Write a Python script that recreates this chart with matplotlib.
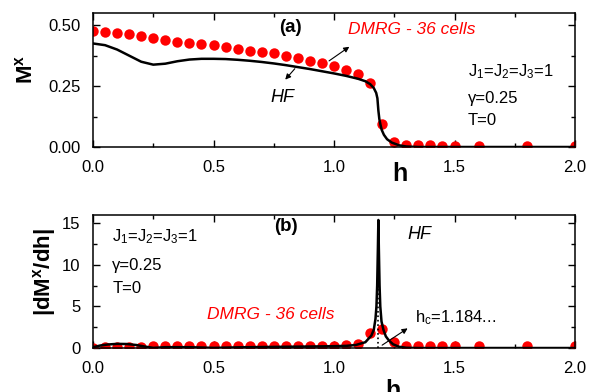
import matplotlib.pyplot as plt
from matplotlib.ticker import MultipleLocator, FormatStrFormatter

plt.rcParams['font.family'] = ['Liberation Sans', 'DejaVu Sans']
plt.rcParams['mathtext.fontset'] = 'custom'
plt.rcParams['mathtext.rm'] = 'Liberation Sans'
plt.rcParams['mathtext.it'] = 'Liberation Sans:italic'
plt.rcParams['mathtext.bf'] = 'Liberation Sans:bold'

# DMRG (36 cells) field grid and data
h_dmrg = [0.0, 0.05, 0.1, 0.15, 0.2, 0.25, 0.3, 0.35, 0.4, 0.45, 0.5, 0.55,
          0.6, 0.65, 0.7, 0.75, 0.8, 0.85, 0.9, 0.95, 1.0, 1.05, 1.1, 1.15,
          1.2, 1.25, 1.3, 1.35, 1.4, 1.45, 1.5, 1.6, 1.8, 2.0]
mx_dmrg = [0.475, 0.474, 0.470, 0.464, 0.456, 0.447, 0.439, 0.430, 0.426,
           0.421, 0.417, 0.410, 0.403, 0.395, 0.389, 0.384, 0.375, 0.364,
           0.355, 0.346, 0.333, 0.316, 0.299, 0.263, 0.094, 0.020, 0.010,
           0.008, 0.007, 0.006, 0.006, 0.005, 0.005, 0.005]
dmx_dmrg = [0.05, 0.10, 0.10, 0.12, 0.18, 0.22, 0.24, 0.24, 0.24, 0.24,
            0.24, 0.24, 0.25, 0.25, 0.25, 0.25, 0.26, 0.26, 0.26, 0.27,
            0.28, 0.32, 0.48, 1.85, 2.30, 0.76, 0.25, 0.20, 0.20, 0.20,
            0.20, 0.20, 0.20, 0.20]

# Hartree-Fock magnetization
h_hf = [0.0, 0.05, 0.1, 0.15, 0.2, 0.25, 0.3, 0.35, 0.4, 0.45, 0.5, 0.55,
        0.6, 0.65, 0.7, 0.75, 0.8, 0.85, 0.9, 0.95, 1.0, 1.05, 1.1, 1.13,
        1.15, 1.165, 1.175, 1.18, 1.184, 1.188, 1.193, 1.198, 1.207, 1.22,
        1.24, 1.27, 1.3, 1.35, 2.0]
mx_hf = [0.425, 0.418, 0.400, 0.375, 0.350, 0.338, 0.342, 0.352, 0.359,
         0.362, 0.362, 0.361, 0.358, 0.354, 0.349, 0.343, 0.336, 0.328,
         0.320, 0.311, 0.302, 0.292, 0.280, 0.270, 0.258, 0.242, 0.222,
         0.200, 0.150, 0.115, 0.090, 0.070, 0.050, 0.032, 0.018, 0.007,
         0.002, 0.0, 0.0]

# Hartree-Fock |dMx/dh|
h_hf_d = [0.0, 0.03, 0.06, 0.1, 0.14, 0.18, 0.22, 0.25, 0.3, 0.4, 0.5,
          0.6, 0.7, 0.8, 0.9, 1.0, 1.05, 1.09, 1.13, 1.155, 1.165, 1.172,
          1.176, 1.179, 1.182, 1.184, 1.186, 1.189, 1.192, 1.197, 1.205,
          1.215, 1.228, 1.245, 1.27, 1.3, 1.35, 2.0]
dmx_hf = [0.10, 0.30, 0.42, 0.50, 0.48, 0.36, 0.15, 0.02, 0.10, 0.10, 0.02,
          0.08, 0.12, 0.15, 0.18, 0.22, 0.26, 0.36, 0.70, 1.5, 2.2, 3.5,
          5.0, 7.5, 12.0, 15.4, 12.0, 7.5, 5.0, 3.2, 2.2, 1.4, 0.9, 0.45,
          0.15, 0.03, 0.0, 0.0]
h_c = 1.184

fig = plt.figure(figsize=(5.97, 3.92), dpi=100)
ax1 = fig.add_axes([0.1558, 0.625, 0.8074, 0.3418])
ax2 = fig.add_axes([0.1558, 0.1122, 0.8074, 0.3393])

for ax in (ax1, ax2):
    ax.set_xlim(0, 2.0)
    ax.xaxis.set_major_locator(MultipleLocator(0.5))
    ax.xaxis.set_minor_locator(MultipleLocator(0.25))
    ax.xaxis.set_major_formatter(FormatStrFormatter('%.1f'))
    ax.tick_params(which='both', direction='in', top=True, right=True,
                   labelsize=12, width=1.0)
    ax.tick_params(which='major', length=5, pad=9)
    ax.tick_params(which='minor', length=3)
    for s in ax.spines.values():
        s.set_linewidth(1.1)

arrow = dict(arrowstyle='-|>', color='black', lw=0.8, mutation_scale=8)

# panel (a): magnetization
ax1.plot(h_hf, mx_hf, color='black', lw=1.8, zorder=3)
ax1.plot(h_dmrg, mx_dmrg, 'o', color='red', ms=7.5, mec='none', zorder=2)
ax1.set_ylim(0, 0.55)
ax1.yaxis.set_major_locator(MultipleLocator(0.25))
ax1.yaxis.set_minor_locator(MultipleLocator(0.125))
ax1.yaxis.set_major_formatter(FormatStrFormatter('%.2f'))
ax1.set_ylabel(r'$\mathbf{M^x}$', fontsize=16)
ax1.yaxis.set_label_coords(-0.116, 0.58)
ax1.set_xlabel('h', fontsize=18, fontweight='bold')
ax1.xaxis.set_label_coords(0.636, -0.115)

ax1.text(0.82, 0.49, '(a)', fontsize=13.5, fontweight='bold', ha='center', va='center')
ax1.text(1.058, 0.484, 'DMRG - 36 cells', color='red', style='italic',
         fontsize=12.5, ha='left', va='center')
ax1.annotate('', xy=(1.073, 0.418), xytext=(0.97, 0.347), arrowprops=arrow)
ax1.text(0.784, 0.203, 'HF', style='italic', fontsize=13, ha='center', va='center')
ax1.annotate('', xy=(0.79, 0.268), xytext=(0.845, 0.33), arrowprops=arrow)
ax1.text(1.556, 0.31, r'J$_1$=J$_2$=J$_3$=1', fontsize=12, ha='left', va='center')
ax1.text(1.556, 0.2, 'γ=0.25', fontsize=12, ha='left', va='center')
ax1.text(1.556, 0.11, 'T=0', fontsize=12, ha='left', va='center')

# panel (b): derivative
ax2.plot([h_c, h_c], [0, dmx_hf[h_hf_d.index(h_c)]], ':', color='black', lw=1.2, zorder=4)
ax2.plot(h_hf_d, dmx_hf, color='black', lw=1.8, zorder=3)
ax2.plot(h_dmrg, dmx_dmrg, 'o', color='red', ms=7.5, mec='none', zorder=2)
ax2.set_ylim(0, 16)
ax2.yaxis.set_major_locator(MultipleLocator(5))
ax2.yaxis.set_minor_locator(MultipleLocator(2.5))
ax2.set_ylabel(r'$\mathbf{|dM^x/dh|}$', fontsize=16)
ax2.yaxis.set_label_coords(-0.073, 0.57)
ax2.set_xlabel('h', fontsize=18, fontweight='bold')
ax2.xaxis.set_label_coords(0.622, -0.235)

ax2.text(0.80, 14.6, '(b)', fontsize=13.5, fontweight='bold', ha='center', va='center')
ax2.text(1.355, 13.6, 'HF', style='italic', fontsize=13, ha='center', va='center')
ax2.text(0.737, 4.0, 'DMRG - 36 cells', color='red', style='italic',
         fontsize=12.5, ha='center', va='center')
ax2.text(1.335, 3.6, r'h$_\mathrm{c}$=1.184...', fontsize=12, ha='left', va='center')
ax2.annotate('', xy=(1.315, 2.55), xytext=(1.19, 0.16), arrowprops=arrow)
ax2.text(0.08, 13.4, r'J$_1$=J$_2$=J$_3$=1', fontsize=12, ha='left', va='center')
ax2.text(0.08, 9.9, 'γ=0.25', fontsize=12, ha='left', va='center')
ax2.text(0.08, 7.2, 'T=0', fontsize=12, ha='left', va='center')

fig.savefig('out.png', dpi=100)
